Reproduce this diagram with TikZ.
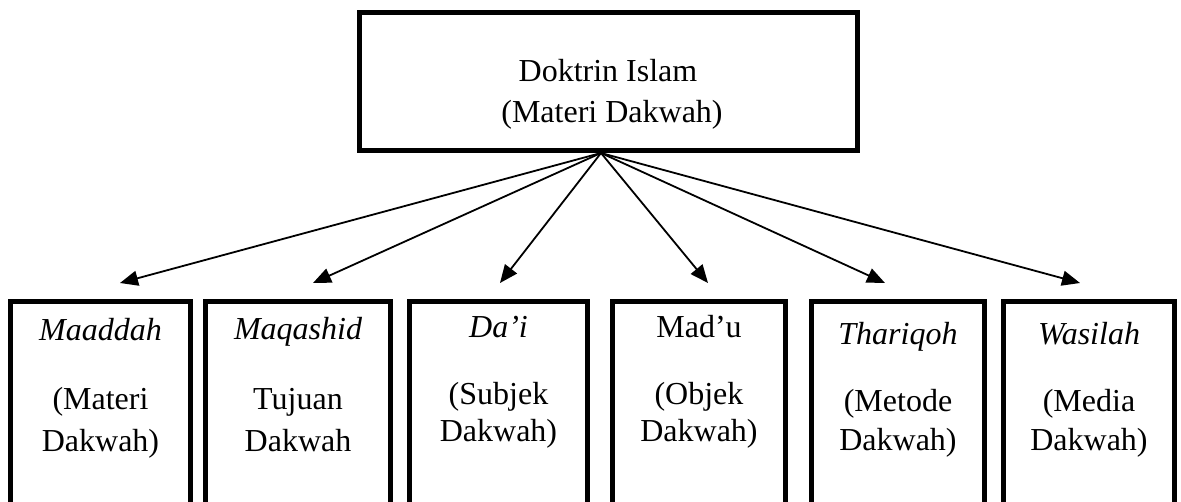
\documentclass[tikz,border=0pt]{standalone}
\usepackage{fontspec}
\setmainfont{Liberation Serif}
\usetikzlibrary{arrows.meta}
\tikzset{
  topbox/.style={draw, line width=5pt, inner sep=0pt, minimum width=498pt, minimum height=138pt},
  botbox/.style={draw, line width=5pt, inner sep=0pt, minimum height=260pt, anchor=north},
  lbl/.style={anchor=base, inner sep=0pt, font=\fontsize{32pt}{42pt}\selectfont},
  conn/.style={line width=1.8pt, -{Triangle[length=18pt,width=15pt]}}
}
\begin{document}
\begin{tikzpicture}[x=1pt,y=-1pt]
\useasboundingbox (0,0) rectangle (1181,502);
\clip (0,0) rectangle (1181,502);
\fill[white] (0,0) rectangle (1181,502);
% top box
\node[topbox] (top) at (608.5,81.5) {};
\node[lbl] (t1) at (608,82) {Doktrin Islam};
\node[lbl] (t2) at (612,123) {(Materi Dakwah)};
% bottom boxes
\node[botbox, minimum width=180pt] (b1) at (100.5,299.5) {};
\node[botbox, minimum width=185pt] (b2) at (298,299.5) {};
\node[botbox, minimum width=178pt] (b3) at (498.5,299.5) {};
\node[botbox, minimum width=173pt] (b4) at (699,299.5) {};
\node[botbox, minimum width=173pt] (b5) at (898,299.5) {};
\node[botbox, minimum width=171pt] (b6) at (1089,299.5) {};
% texts
\node[lbl] (l1a) at (100.5,341) {\itshape Maaddah};
\node[lbl] (l1b) at (100.5,410) {(Materi};
\node[lbl] (l1c) at (100.5,452) {Dakwah)};
\node[lbl] (l2a) at (298,340) {\itshape Maqashid};
\node[lbl] (l2b) at (298,410) {Tujuan};
\node[lbl] (l2c) at (298,452) {Dakwah};
\node[lbl] (l3a) at (498.5,338) {\itshape Da’i};
\node[lbl] (l3b) at (498.5,405) {(Subjek};
\node[lbl] (l3c) at (498.5,442) {Dakwah)};
\node[lbl] (l4a) at (699,338) {Mad’u};
\node[lbl] (l4b) at (699,405) {(Objek};
\node[lbl] (l4c) at (699,442) {Dakwah)};
\node[lbl] (l5a) at (898,345) {\itshape Thariqoh};
\node[lbl] (l5b) at (898,412) {(Metode};
\node[lbl] (l5c) at (898,450) {Dakwah)};
\node[lbl] (l6a) at (1089,345) {\itshape Wasilah};
\node[lbl] (l6b) at (1089,412) {(Media};
\node[lbl] (l6c) at (1089,450) {Dakwah)};
% connectors
\coordinate (apex) at (601,153);
\coordinate (e1) at (120,283);
\coordinate (e2) at (313,283);
\coordinate (e3) at (500,283);
\coordinate (e4) at (708,283);
\coordinate (e5) at (885,283);
\coordinate (e6) at (1080,283);
\foreach \i in {1,...,6} {\draw[conn] (apex) -- (e\i);}
\end{tikzpicture}
\end{document}
